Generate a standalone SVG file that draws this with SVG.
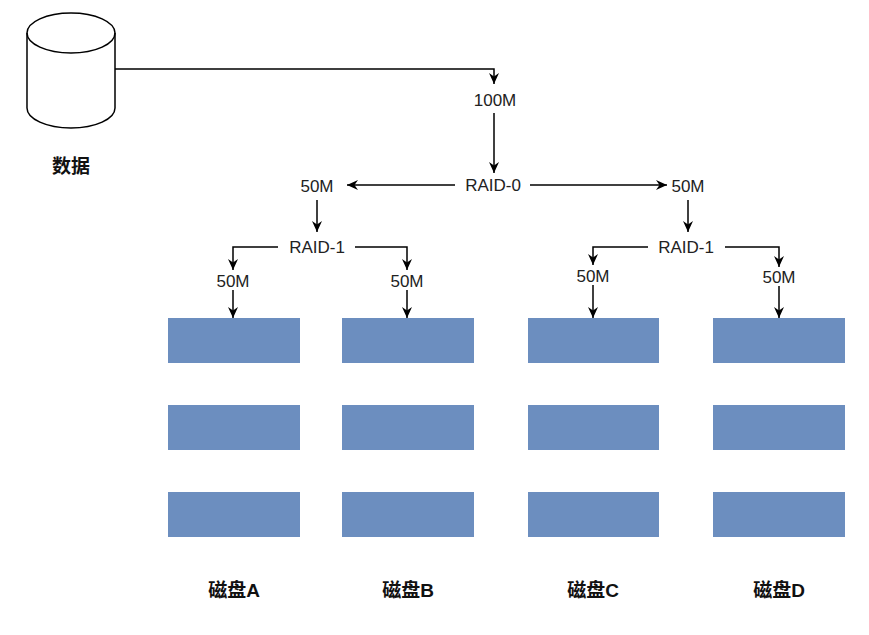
<svg xmlns="http://www.w3.org/2000/svg" width="869" height="635" viewBox="0 0 869 635">
<style>
.lbl{font-family:"Liberation Sans",Arial,sans-serif;font-size:17px;fill:#222;text-anchor:middle}
.bold{font-family:"Liberation Sans","Noto Sans CJK SC",sans-serif;font-size:19px;font-weight:bold;fill:#111;text-anchor:middle}
.disk{fill:#6C8EBF}
.edge{fill:none;stroke:#000;stroke-width:1.5;marker-end:url(#arr)}
</style>
<defs>
<marker id="arr" markerUnits="userSpaceOnUse" markerWidth="12" markerHeight="12" viewBox="0 0 12 12" refX="11" refY="6" orient="auto">
<path d="M0,1 L11,6 L0,11 L3.5,6 Z" fill="#000"/>
</marker>
</defs>
<rect width="869" height="635" fill="#fff"/>
<g id="data">
<path d="M27,33 A44,20 0 0 1 115,33 V108 A44,20 0 0 1 27,108 Z" fill="#fff" stroke="#000" stroke-width="1.5"/>
<path d="M27,33 A44,20 0 0 0 115,33" fill="none" stroke="#000" stroke-width="1.5"/>
<text class="bold" x="71" y="173">数据</text>
</g>
<g id="connectors">
<path class="edge" d="M115,69 H494 V84"/>
<path class="edge" d="M494,113 V173"/>
<path class="edge" d="M455,185 H347"/>
<path class="edge" d="M530,185 H667"/>
<path class="edge" d="M317,200 V232"/>
<path class="edge" d="M688,200 V232"/>
<path class="edge" d="M278,247 H233 V270"/>
<path class="edge" d="M355,247 H407 V270"/>
<path class="edge" d="M648,247 H593 V265"/>
<path class="edge" d="M725,247 H779 V267"/>
<path class="edge" d="M233,290 V318"/>
<path class="edge" d="M407,290 V318"/>
<path class="edge" d="M593,285 V318"/>
<path class="edge" d="M779,286 V318"/>
</g>
<g id="labels">
<text class="lbl" x="495" y="106">100M</text>
<text class="lbl" x="493" y="191">RAID-0</text>
<text class="lbl" x="317" y="192">50M</text>
<text class="lbl" x="688" y="192">50M</text>
<text class="lbl" x="317" y="253">RAID-1</text>
<text class="lbl" x="686" y="253">RAID-1</text>
<text class="lbl" x="233" y="287">50M</text>
<text class="lbl" x="407" y="287">50M</text>
<text class="lbl" x="593" y="282">50M</text>
<text class="lbl" x="779" y="283">50M</text>
</g>
<g id="diskA">
<rect class="disk" x="168" y="318" width="132" height="45"/>
<rect class="disk" x="168" y="405" width="132" height="45"/>
<rect class="disk" x="168" y="492" width="132" height="45"/>
<text class="bold" x="234" y="597">磁盘A</text>
</g>
<g id="diskB">
<rect class="disk" x="342" y="318" width="132" height="45"/>
<rect class="disk" x="342" y="405" width="132" height="45"/>
<rect class="disk" x="342" y="492" width="132" height="45"/>
<text class="bold" x="408" y="597">磁盘B</text>
</g>
<g id="diskC">
<rect class="disk" x="528" y="318" width="131" height="45"/>
<rect class="disk" x="528" y="405" width="131" height="45"/>
<rect class="disk" x="528" y="492" width="131" height="45"/>
<text class="bold" x="593" y="597">磁盘C</text>
</g>
<g id="diskD">
<rect class="disk" x="713" y="318" width="132" height="45"/>
<rect class="disk" x="713" y="405" width="132" height="45"/>
<rect class="disk" x="713" y="492" width="132" height="45"/>
<text class="bold" x="779" y="597">磁盘D</text>
</g>
</svg>
